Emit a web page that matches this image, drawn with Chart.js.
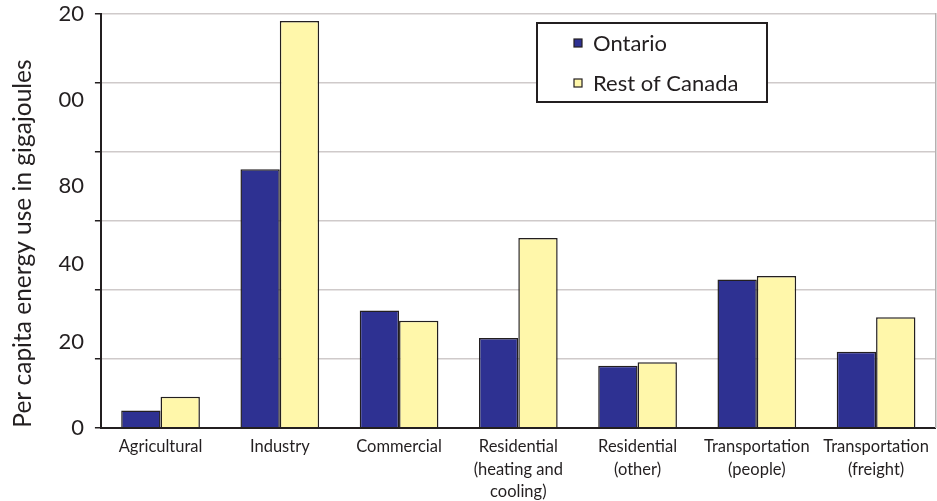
<!DOCTYPE html>
<html>
<head>
<meta charset="utf-8">
<script src="https://cdn.jsdelivr.net/npm/chart.js@4.4.1/dist/chart.umd.min.js"></script>
<style>
  html, body { margin: 0; padding: 0; background: #fff; }
  #wrap { position: relative; width: 937px; height: 501px; }
</style>
</head>
<body>
<div id="wrap"><canvas id="chart" width="937" height="501"></canvas></div>
<script>
  // categories and series
  var categories = [
    ['Agricultural'],
    ['Industry'],
    ['Commercial'],
    ['Residential', '(heating and', 'cooling)'],
    ['Residential', '(other)'],
    ['Transportation', '(people)'],
    ['Transportation', '(freight)']
  ];
  var ontario = [5, 75, 34, 26, 18, 43, 22];
  var restOfCanada = [9, 118, 31, 55, 19, 44, 32];

  // tick labels as printed (positions in value units)
  var yTickValues = [0, 25, 47.5, 70, 95, 120];
  var yTickText = ['0', '20', '40', '80', '00', '20'];
  var yGridEvery = 20;

  var blue = '#2e3192';
  var yellow = '#fff7aa';
  var ink = '#231f20';
  var fontFamily = 'Lato, "Open Sans", sans-serif';

  // legend drawn as a framed box inside the plot, like the original
  var boxLegend = {
    id: 'boxLegend',
    afterDraw: function (chart) {
      var ctx = chart.ctx;
      var x = 537, y = 23, w = 230, h = 79;
      ctx.save();
      ctx.fillStyle = '#fff';
      ctx.fillRect(x, y, w, h);
      ctx.lineWidth = 2;
      ctx.strokeStyle = ink;
      ctx.strokeRect(x, y, w, h);
      ctx.font = '22px ' + fontFamily;
      ctx.textBaseline = 'middle';
      chart.data.datasets.forEach(function (ds, i) {
        var cy = y + 20 + i * 40;
        ctx.fillStyle = ds.backgroundColor;
        ctx.fillRect(x + 37, cy - 4, 8, 8);
        ctx.lineWidth = 1.2;
        ctx.strokeStyle = ink;
        ctx.strokeRect(x + 37, cy - 4, 8, 8);
        ctx.fillStyle = ink;
        ctx.fillText(ds.label, x + 56, cy + 1);
      });
      ctx.restore();
    }
  };

  var ctx = document.getElementById('chart').getContext('2d');
  window.energyChart = new Chart(ctx, {
    type: 'bar',
    data: {
      labels: categories,
      datasets: [
        {
          label: 'Ontario',
          data: ontario,
          backgroundColor: blue,
          borderColor: ink,
          borderWidth: 1.5
        },
        {
          label: 'Rest of Canada',
          data: restOfCanada,
          backgroundColor: yellow,
          borderColor: ink,
          borderWidth: 1.5
        }
      ]
    },
    options: {
      responsive: false,
      animation: false,
      layout: { padding: { top: 14, right: 1, left: 8, bottom: -10 } },
      datasets: {
        bar: { categoryPercentage: 0.66, barPercentage: 1.0 }
      },
      plugins: {
        legend: { display: false },
        tooltip: { enabled: false }
      },
      scales: {
        x: {
          grid: { display: false, drawTicks: false },
          border: { color: ink, width: 2 },
          ticks: {
            color: ink,
            font: { family: fontFamily, size: 16.5, lineHeight: 1.36 },
            maxRotation: 0,
            autoSkip: false,
            padding: 8
          }
        },
        y: {
          min: 0,
          max: 120,
          border: { color: ink, width: 2 },
          // let the top/bottom labels overhang instead of shrinking the plot
          afterFit: function (scale) {
            scale.paddingTop = 0;
            scale.paddingBottom = 0;
          },
          grid: {
            color: function (c) {
              return c.tick && c.tick.value % yGridEvery === 0 ? '#cfcaca' : 'rgba(0,0,0,0)';
            },
            tickColor: function (c) {
              return c.tick && c.tick.value % yGridEvery === 0 ? ink : 'rgba(0,0,0,0)';
            },
            lineWidth: 1.5,
            tickLength: 6
          },
          ticks: {
            stepSize: 2.5,
            autoSkip: false,
            color: ink,
            padding: 11,
            font: { family: fontFamily, size: 22 },
            callback: function (v) {
              var k = yTickValues.indexOf(v);
              return k >= 0 ? yTickText[k] : '';
            }
          },
          title: {
            display: true,
            align: 'start',
            text: 'Per capita energy use in gigajoules',
            color: ink,
            font: { family: fontFamily, size: 24.5 },
            padding: { top: 0, bottom: 10 }
          }
        },
        y2: {
          position: 'right',
          min: 0,
          max: 120,
          border: { color: '#b5b0b0', width: 1.5 },
          grid: { display: false, drawTicks: false },
          ticks: { display: false }
        }
      }
    },
    plugins: [boxLegend]
  });
</script>
</body>
</html>
